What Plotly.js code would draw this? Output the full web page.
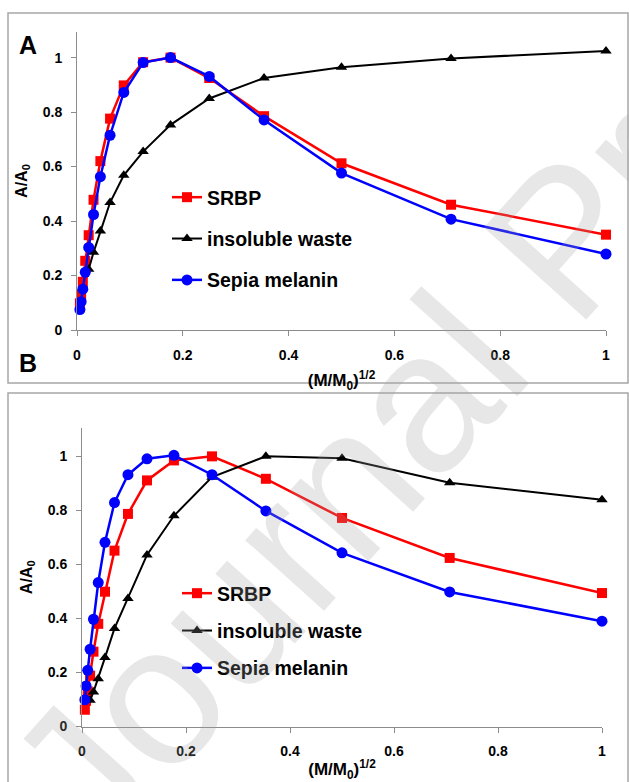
<!DOCTYPE html>
<html>
<head>
<meta charset="utf-8">
<script src="https://cdn.plot.ly/plotly-3.0.1.min.js"></script>
<style>html,body{margin:0;padding:0;background:#fff;}#chart{width:629px;height:782px;}</style>
</head>
<body>
<div id="chart"></div>
<script>
// x values: (M/M0)^1/2
const xVals = [1, 0.7071, 0.5, 0.3536, 0.25, 0.1768, 0.125, 0.0884, 0.0625, 0.0442, 0.03125, 0.0221, 0.0156, 0.0110, 0.0078, 0.0055];

// Panel A
const srbpA  = [0.350, 0.460, 0.612, 0.785, 0.925, 1.000, 0.983, 0.898, 0.776, 0.620, 0.478, 0.348, 0.254, 0.177, 0.130, 0.098];
const wasteA = [1.024, 0.997, 0.965, 0.925, 0.850, 0.753, 0.655, 0.568, 0.468, 0.363, 0.285, 0.223];
const sepiaA = [0.279, 0.407, 0.576, 0.771, 0.931, 1.000, 0.982, 0.872, 0.715, 0.563, 0.424, 0.303, 0.212, 0.150, 0.104, 0.075];

// Panel B
const srbpB  = [0.494, 0.624, 0.772, 0.917, 1.000, 0.985, 0.911, 0.787, 0.651, 0.499, 0.380, 0.277, 0.188, 0.130, 0.095, 0.062];
const wasteB = [0.839, 0.902, 0.993, 1.000, 0.923, 0.780, 0.635, 0.474, 0.363, 0.255, 0.177, 0.128, 0.097];
const sepiaB = [0.390, 0.498, 0.643, 0.798, 0.932, 1.004, 0.991, 0.932, 0.829, 0.682, 0.533, 0.397, 0.286, 0.208, 0.150, 0.099];

const names = ['SRBP', 'insoluble waste', 'Sepia melanin'];
const xTicks = [0, 0.2, 0.4, 0.6, 0.8, 1];
const xTickText = ['0', '0.2', '0.4', '0.6', '0.8', '1'];
const yTicks = [0, 0.2, 0.4, 0.6, 0.8, 1];
const yTickText = ['0', '0.2', '0.4', '0.6', '0.8', '1'];

const FONT = 'Arial, "Liberation Sans", sans-serif';

function mk(name, y, xa, ya, leg, color, symbol, size, width, grp) {
  return {
    type: 'scatter', mode: 'lines+markers', name: name,
    x: xVals.slice(0, y.length), y: y,
    xaxis: xa, yaxis: ya, legend: leg, legendgroup: grp,
    line: {color: color, width: width},
    marker: {color: color, symbol: symbol, size: size},
    cliponaxis: false, hoverinfo: 'skip'
  };
}

const data = [
  mk(names[0], srbpA, 'x', 'y', 'legend', '#ff0000', 'square', 10, 2.5, 'a1'),
  mk(names[1], wasteA, 'x', 'y', 'legend', '#000000', 'triangle-up', 10, 2, 'a2'),
  mk(names[2], sepiaA, 'x', 'y', 'legend', '#0000ff', 'circle', 11, 2.5, 'a3'),
  mk(names[0], srbpB, 'x2', 'y2', 'legend2', '#ff0000', 'square', 10, 2.5, 'b1'),
  mk(names[1], wasteB, 'x2', 'y2', 'legend2', '#000000', 'triangle-up', 10, 2, 'b2'),
  mk(names[2], sepiaB, 'x2', 'y2', 'legend2', '#0000ff', 'circle', 11, 2.5, 'b3')
];

const W = 629, H = 782;
const px = v => v / W;
const py = v => 1 - v / H;

function xax(dom, anchor, standoff) {
  return {
    domain: dom, anchor: anchor, range: [0, 1],
    tickvals: xTicks, ticktext: xTickText,
    showline: true, linecolor: '#8c8c8c', linewidth: 1,
    ticks: 'outside', ticklen: 5, tickcolor: '#8c8c8c',
    showgrid: false, zeroline: false,
    tickfont: {family: FONT, size: 14, color: '#000', weight: 'bold'},
    ticklabelstandoff: 7,
    title: {text: '(M/M<sub>0</sub>)<sup>1/2</sup>', font: {family: FONT, size: 17, color: '#000', weight: 'bold'}, standoff: standoff}
  };
}
function yax(dom, anchor, maxv) {
  return {
    domain: dom, anchor: anchor, range: [0, maxv],
    tickvals: yTicks, ticktext: yTickText,
    showline: true, linecolor: '#8c8c8c', linewidth: 1,
    ticks: 'outside', ticklen: 5, tickcolor: '#8c8c8c',
    showgrid: false, zeroline: false,
    tickfont: {family: FONT, size: 14, color: '#000', weight: 'bold'},
    ticklabelstandoff: 6,
    title: {text: 'A/A<sub>0</sub>', font: {family: FONT, size: 16, color: '#000', weight: 'bold'}, standoff: 11}
  };
}

const legFont = {family: FONT, size: 19.5, color: '#000', weight: 'bold'};

const layout = {
  width: W, height: H,
  margin: {l: 0, r: 0, t: 0, b: 0},
  paper_bgcolor: '#fff', plot_bgcolor: 'rgba(0,0,0,0)',
  showlegend: true,
  xaxis: xax([px(77), px(606)], 'y', 12),
  yaxis: yax([py(330), py(32)], 'x', 1.094),
  xaxis2: xax([px(82), px(602)], 'y2', 5),
  yaxis2: yax([py(726.5), py(428)], 'x2', 1.105),
  legend: {x: px(167), y: py(178), xanchor: 'left', yanchor: 'top', bgcolor: 'rgba(0,0,0,0)',
           font: legFont, traceorder: 'grouped', tracegroupgap: 13},
  legend2: {x: px(177), y: py(574), xanchor: 'left', yanchor: 'top', bgcolor: 'rgba(0,0,0,0)',
            font: legFont, traceorder: 'grouped', tracegroupgap: 9},
  shapes: [
    {type: 'rect', xref: 'paper', yref: 'paper', x0: px(8), x1: px(628), y0: py(383), y1: py(13),
     line: {color: '#a6a6a6', width: 1.5}, layer: 'below'},
    {type: 'rect', xref: 'paper', yref: 'paper', x0: px(8), x1: px(628), y0: py(800), y1: py(393),
     line: {color: '#a6a6a6', width: 1.5}, layer: 'below'}
  ],
  annotations: [
    {text: '<b>A</b>', xref: 'paper', yref: 'paper', x: px(28), y: py(45), xanchor: 'center', yanchor: 'middle',
     showarrow: false, font: {family: FONT, size: 25, color: '#000'}},
    {text: '<b>B</b>', xref: 'paper', yref: 'paper', x: px(28), y: py(363), xanchor: 'center', yanchor: 'middle',
     showarrow: false, font: {family: FONT, size: 25, color: '#000'}},
    {text: 'Journal Pre-proof', xref: 'paper', yref: 'paper', x: px(565), y: py(240), xanchor: 'center', yanchor: 'middle',
     showarrow: false, textangle: -48, font: {family: FONT, size: 200, color: 'rgba(160,160,160,0.25)'}}
  ]
};

Plotly.newPlot('chart', data, layout, {staticPlot: true, displayModeBar: false});
</script>
</body>
</html>
